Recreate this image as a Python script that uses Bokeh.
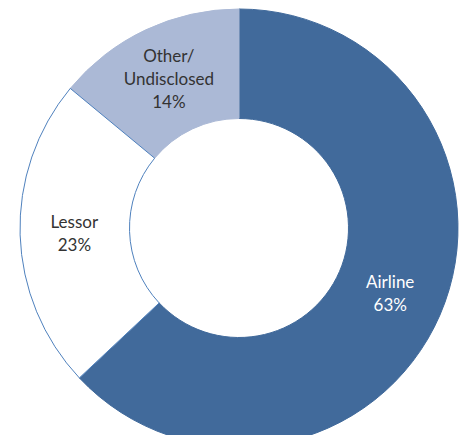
import math
from bokeh.plotting import figure
from bokeh.models import Range1d, ColumnDataSource
from bokeh.core.properties import value
from bokeh.embed import file_html
from bokeh.resources import INLINE

# ---- data ----
categories = ["Airline", "Lessor", "Other/\nUndisclosed"]
shares = [63, 23, 14]
pct_labels = ["63%", "23%", "14%"]
colors = ["#416A9B", "#FFFFFF", "#ABB9D6"]
line_colors = ["#416A9B", "#4F81BD", "#ABB9D6"]
text_colors = ["#FFFFFF", "#333333", "#333333"]

W, H = 462, 435
# data coordinates == picture pixel coordinates (x right, y = -down)
p = figure(width=W, height=H, output_backend="svg", toolbar_location=None,
           x_range=Range1d(0, W), y_range=Range1d(-H, 0),
           min_border=0, outline_line_color=None)
p.axis.visible = False
p.grid.visible = False
p.background_fill_color = "white"

cx, cy = 238.5, -227.5
r_in, r_out = 109.5, 219.0

total = float(sum(shares))
starts, ends, mids = [], [], []
acc = 0.0
for s in shares:
    a0 = math.pi / 2 - 2 * math.pi * acc / total
    acc += s
    a1 = math.pi / 2 - 2 * math.pi * acc / total
    starts.append(a0)
    ends.append(a1)
    mids.append((a0 + a1) / 2)

order = [0, 2, 1]  # draw Lessor last so its outline shows
src = ColumnDataSource(dict(
    x=[cx] * 3, y=[cy] * 3,
    start=[starts[i] for i in order], end=[ends[i] for i in order],
    fill=[colors[i] for i in order], line=[line_colors[i] for i in order],
))
p.annular_wedge(x="x", y="y", inner_radius=r_in, outer_radius=r_out,
                start_angle="start", end_angle="end", direction="clock",
                fill_color="fill", line_color="line", line_width=1, source=src)

# labels
lx, ly, lt, lc = [], [], [], []
r_lab = (r_in + r_out) / 2 + 0.5
spacing = 23.0
for i, cat in enumerate(categories):
    lines = cat.split("\n") + [pct_labels[i]]
    mx = cx + r_lab * math.cos(mids[i])
    my = cy + r_lab * math.sin(mids[i])
    n = len(lines)
    for k, t in enumerate(lines):
        lx.append(mx)
        ly.append(my - (k - (n - 1) / 2) * spacing)
        lt.append(t)
        lc.append(text_colors[i])

p.text(x=lx, y=ly, text=lt, text_color=lc, text_align="center",
       text_baseline="middle", text_font=value("Lato"), text_font_size="17px")

open("out.html", "w").write(file_html(p, INLINE))
